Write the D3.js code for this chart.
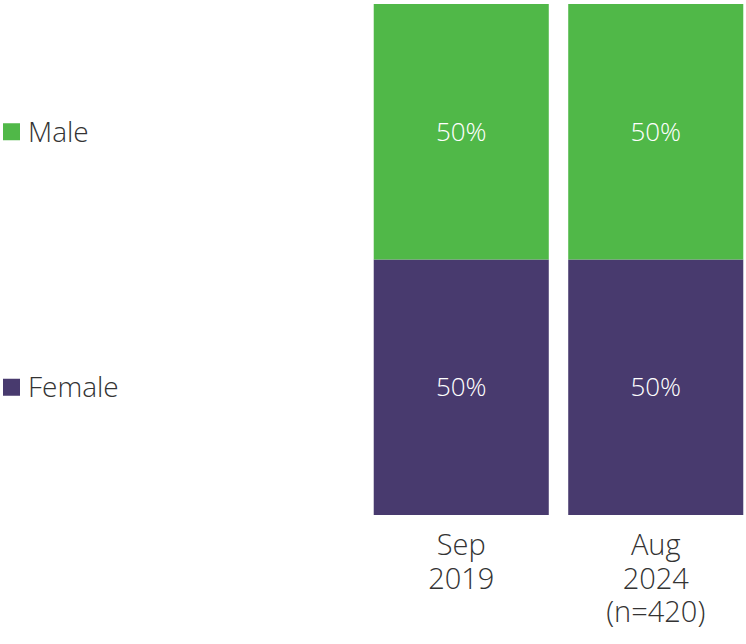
<!DOCTYPE html>
<html>
<head>
<meta charset="utf-8">
<script src="https://cdn.jsdelivr.net/npm/d3@7"></script>
<style>
  html, body { margin: 0; padding: 0; background: #ffffff; }
  svg { display: block; font-family: "Open Sans", "Noto Sans", sans-serif; }
</style>
</head>
<body>
<svg id="chart" width="746" height="644"></svg>
<script>
// Survey waves (x categories), with multi-line labels
const periods = ["Sep 2019", "Aug 2024"];
const periodLabels = [["Sep", "2019"], ["Aug", "2024", "(n=420)"]];
// Gender series, stacked bottom-up
const genders = ["Female", "Male"];
const femaleShare = [50, 50];
const maleShare = [50, 50];
const colors = { Male: "#50b848", Female: "#483a6e" };

const rows = periods.map((p, i) => ({ period: p, Female: femaleShare[i], Male: maleShare[i] }));
const series = d3.stack().keys(genders)(rows);

const svg = d3.select("#chart");
const plot = { left: 364, right: 753, top: 4, bottom: 515 };

const x = d3.scaleBand().domain(periods).range([plot.left, plot.right]).paddingInner(0.1).paddingOuter(0.05);
const y = d3.scaleLinear().domain([0, 100]).range([plot.bottom, plot.top]);

const layers = svg.selectAll("g.layer").data(series).join("g")
  .attr("class", "layer")
  .attr("fill", d => colors[d.key]);

layers.selectAll("rect").data(d => d).join("rect")
  .attr("x", d => x(d.data.period))
  .attr("width", x.bandwidth())
  .attr("y", d => y(d[1]))
  .attr("height", d => y(d[0]) - y(d[1]));

// Percentage labels inside each segment
layers.selectAll("text").data(d => d).join("text")
  .attr("x", d => x(d.data.period) + x.bandwidth() / 2)
  .attr("y", d => (y(d[0]) + y(d[1])) / 2)
  .attr("dy", "0.35em")
  .attr("text-anchor", "middle")
  .attr("fill", "#ffffff")
  .attr("font-size", 26)
  .attr("font-weight", 300)
  .text(d => (d[1] - d[0]) + "%");

// Category labels below the bars
const cat = svg.append("g").selectAll("text").data(periods).join("text")
  .attr("text-anchor", "middle")
  .attr("fill", "#333333")
  .attr("font-size", 29)
  .attr("font-weight", 300)
  .attr("x", d => x(d) + x.bandwidth() / 2)
  .attr("y", 555);
cat.selectAll("tspan").data((d, i) => periodLabels[i]).join("tspan")
  .attr("x", function () { return d3.select(this.parentNode).attr("x"); })
  .attr("dy", (d, i) => i === 0 ? 0 : 33.5)
  .text(d => d);

// Legend aligned with each segment's middle
const legend = svg.append("g").selectAll("g").data(series).join("g")
  .attr("transform", d => `translate(3, ${(y(d[0][0]) + y(d[0][1])) / 2})`);
legend.append("rect")
  .attr("x", 0).attr("y", -8.5).attr("width", 17).attr("height", 17)
  .attr("fill", d => colors[d.key]);
legend.append("text")
  .attr("x", 25).attr("dy", "0.35em")
  .attr("fill", "#333333")
  .attr("font-size", 28)
  .attr("font-weight", 300)
  .text(d => d.key);
</script>
</body>
</html>
